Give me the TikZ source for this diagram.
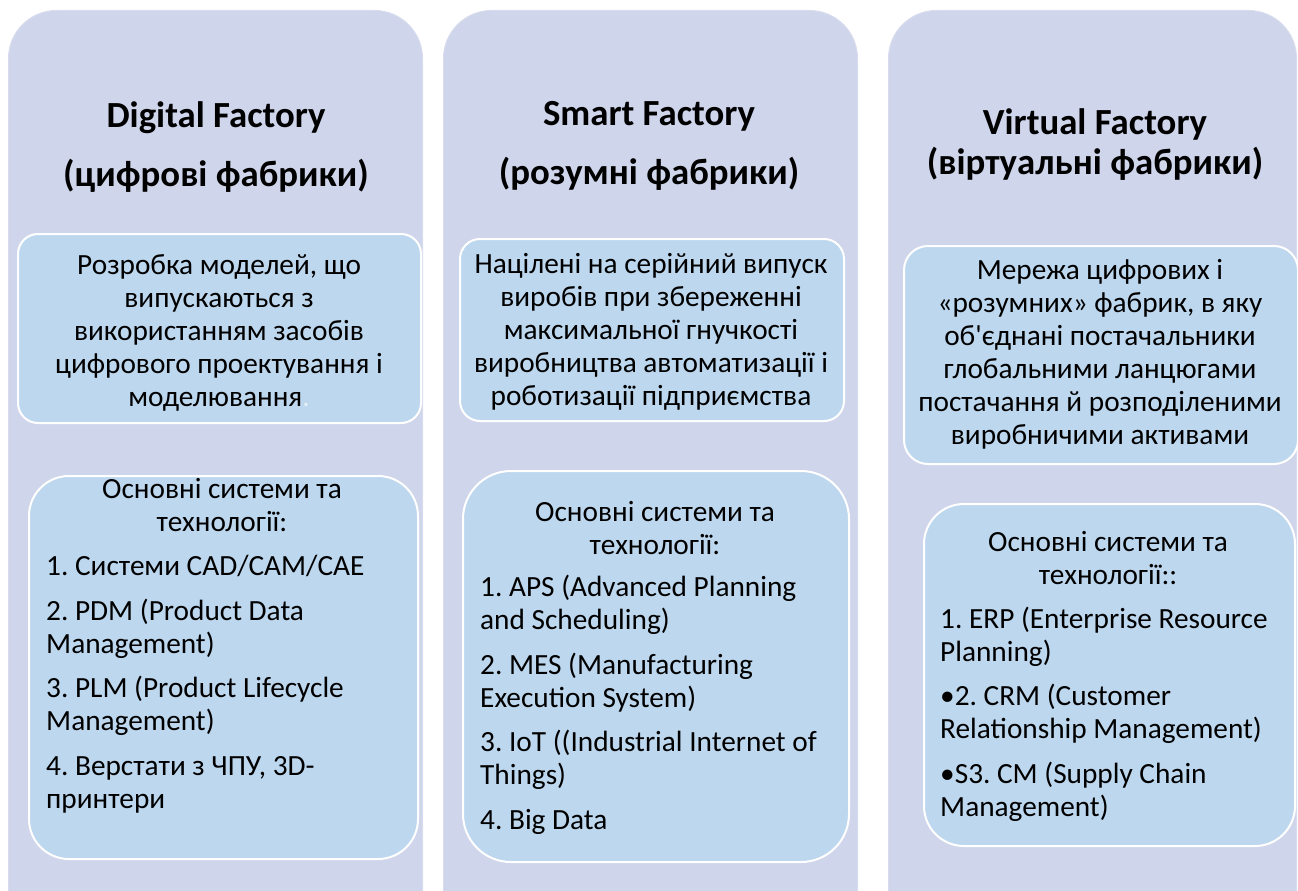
\documentclass[tikz,border=0pt]{standalone}
\usepackage{fontspec}
\setmainfont{Carlito}[Ligatures=TeXOff]
\frenchspacing
\definecolor{outerfill}{HTML}{CFD5EA}
\definecolor{outerline}{HTML}{D8DCEE}
\definecolor{innerfill}{HTML}{BDD7EE}
\begin{document}
\frenchspacing
\begin{tikzpicture}[x=1pt,y=-1pt,
  outerbox/.style={fill=outerfill, draw=outerline, line width=1pt, rounded corners=48pt, anchor=north west, inner sep=0pt},
  innerbox/.style={fill=innerfill, draw=white, line width=2pt, anchor=north west, inner sep=0pt},
  titletext/.style={font=\bfseries\fontsize{36.8}{58.5}\selectfont, align=center, anchor=base, inner sep=0pt},
  bodytext/.style={font=\fontsize{29.3}{33}\selectfont, align=center, anchor=base, inner sep=0pt},
  listtext/.style={font=\fontsize{29.3}{33}\selectfont, align=left, anchor=base west, inner sep=0pt}]
\useasboundingbox (0,0) rectangle (1298,891);
\clip (0,0) rectangle (1298,891);
% outer columns
\node[outerbox, minimum width=414pt, minimum height=940pt] (o1) at (8,10) {};
\node[outerbox, minimum width=414pt, minimum height=940pt] (o2) at (443,10) {};
\node[outerbox, minimum width=408pt, minimum height=940pt] (o3) at (888,10) {};
% inner boxes
\node[innerbox, rounded corners=20pt, minimum width=403pt, minimum height=189pt] (a1) at (17,233) {};
\node[innerbox, rounded corners=40pt, minimum width=389pt, minimum height=383pt] (b1) at (28,475) {};
\node[innerbox, rounded corners=20pt, minimum width=384pt, minimum height=182pt] (a2) at (459,238) {};
\node[innerbox, rounded corners=48pt, minimum width=386pt, minimum height=391pt] (b2) at (462,470) {};
\node[innerbox, rounded corners=24pt, minimum width=394pt, minimum height=218pt] (a3) at (903,245) {};
\node[innerbox, rounded corners=40pt, minimum width=371pt, minimum height=342pt] (b3) at (923,503) {};
% titles (anchor base = baseline of last line)
\node[titletext] (t1) at (216,186) {Digital Factory\\(цифрові фабрики)};
\node[titletext] (t2) at (649,184) {Smart Factory\\(розумні фабрики)};
\node[titletext, font=\bfseries\fontsize{36.8}{40}\selectfont] (t3) at (1095,174) {Virtual Factory\\(віртуальні фабрики)};
% descriptions
\node[bodytext] (d1) at (219,406) {Розробка моделей, що\\випускаються з\\використанням засобів\\цифрового проектування і\\моделювання{\color{white!60!innerfill}.}};
\node[bodytext] (d2) at (651,405) {Націлені на серійний випуск\\виробів при збереженні\\максимальної гнучкості\\виробництва автоматизації і\\роботизації підприємства};
\node[bodytext] (d3) at (1100,444) {Мережа цифрових і\\«розумних» фабрик, в яку\\об'єднані постачальники\\глобальними ланцюгами\\постачання й розподіленими\\виробничими активами};
% system headings
\node[bodytext] (h1) at (222,531) {Основні системи та\\технології:};
\node[bodytext] (h2) at (655,554) {Основні системи та\\технології:};
\node[bodytext] (h3) at (1108,584) {Основні системи та\\технології::};
% lists
\node[listtext] (l1) at (46,808) {1. Системи CAD/CAM/CAE\\[11.5pt]2. PDM (Product Data\\Management)\\[11.5pt]3. PLM (Product Lifecycle\\Management)\\[11.5pt]4. Верстати з ЧПУ, 3D-\\принтери};
\node[listtext] (l2) at (480,829) {1. APS (Advanced Planning\\and Scheduling)\\[11.5pt]2. MES (Manufacturing\\Execution System)\\[11.5pt]3. IoT ((Industrial Internet of\\Things)\\[11.5pt]4. Big Data};
\node[listtext] (l3) at (940,816) {1. ERP (Enterprise Resource\\Planning)\\[11.5pt]•2. CRM (Customer\\Relationship Management)\\[11.5pt]•S3. CM (Supply Chain\\Management)};
\end{tikzpicture}
\end{document}
